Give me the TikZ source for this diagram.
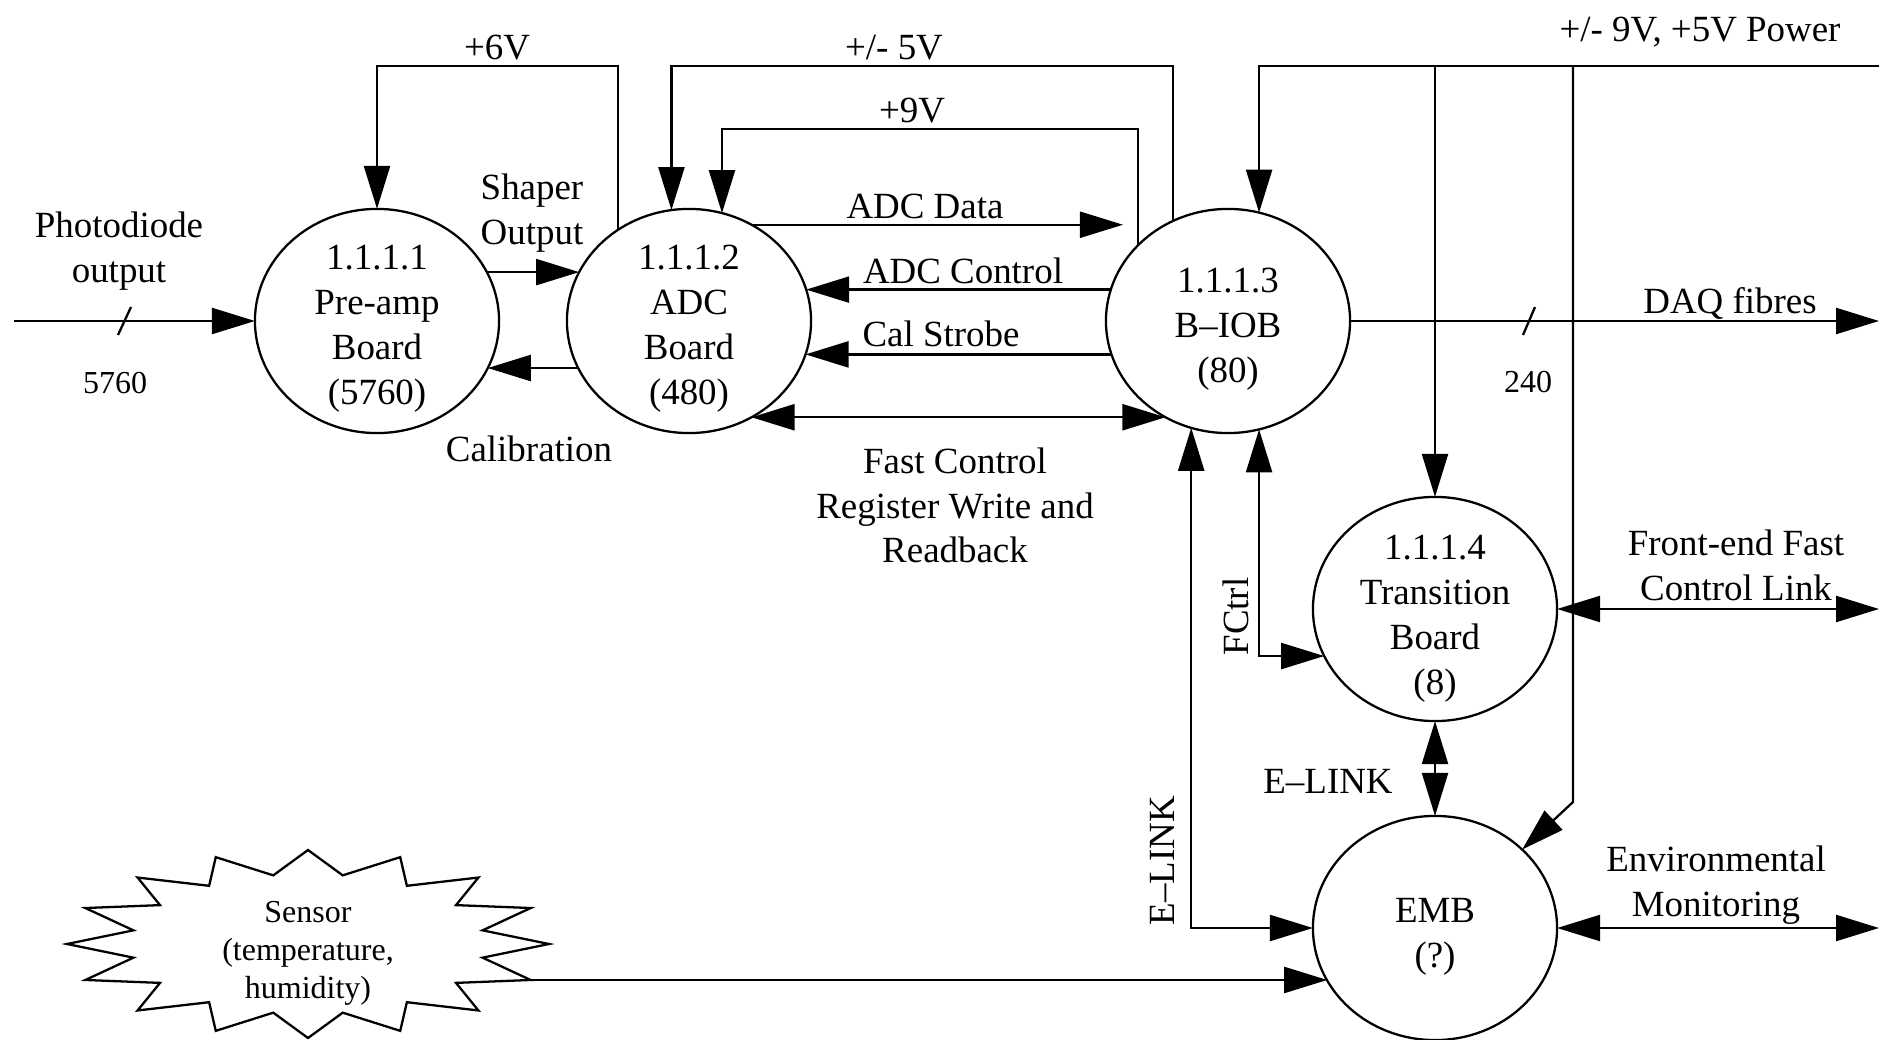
\documentclass[tikz,border=0pt]{standalone}
\usepackage{fontspec}
\setmainfont{Liberation Serif}
\usetikzlibrary{arrows.meta,shapes.geometric}
\newcommand{\mainf}{\fontsize{10.5}{12.75}\selectfont}
\newcommand{\smallf}{\fontsize{9.1}{10.9}\selectfont}
\begin{document}
\begin{tikzpicture}[x=0.01cm,y=-0.01cm,line width=0.65pt,
  board/.style={ellipse,draw,minimum width=2.44cm,minimum height=2.24cm,inner sep=0pt,outer sep=0pt},
  txt/.style={align=center,font=\mainf,inner sep=0pt,yshift=-1pt},
  stxt/.style={align=center,font=\smallf,inner sep=0pt,yshift=-1pt},
  arr/.style={-{Triangle[length=0.43cm,width=0.26cm]}},
  darr/.style={{Triangle[length=0.43cm,width=0.26cm]}-{Triangle[length=0.43cm,width=0.26cm]}}]
\useasboundingbox (0,0) rectangle (1879,1040);

% boards
\node[board] (E1) at (377,321) {};
\node[txt] (E1t) at (377,325) {1.1.1.1\\Pre-amp\\Board\\(5760)};
\node[board] (E2) at (689,321) {};
\node[txt] (E2t) at (689,325) {1.1.1.2\\ADC\\Board\\(480)};
\node[board] (E3) at (1228,321) {};
\node[txt] (E3t) at (1228,326) {1.1.1.3\\B–IOB\\(80)};
\node[board] (E4) at (1435,609) {};
\node[txt] (E4t) at (1435,615) {1.1.1.4\\Transition\\Board\\(8)};
\node[board] (E5) at (1435,928) {};
\node[txt] (E5t) at (1435,933) {EMB\\(?)};

% labels
\node[txt] (Lpd) at (119,248) {Photodiode\\output};
\node[stxt] (L5760) at (115,380) {5760};
\node[txt] (Lshaper) at (532,210) {Shaper\\Output};
\node[txt] (Lcal) at (529,445) {Calibration};
\node[txt] (L6) at (497,44) {+6V};
\node[txt] (L5) at (894,44) {+/- 5V};
\node[txt] (L9) at (912,107) {+9V};
\node[txt] (Ldata) at (925,203) {ADC Data};
\node[txt] (Lctrl) at (963,267) {ADC Control};
\node[txt] (Lstrobe) at (941,330) {Cal Strobe};
\node[txt] (Lfast) at (955,502) {Fast Control\\Register Write and\\Readback};
\node[txt] (Lpow) at (1700,29) {+/- 9V, +5V Power};
\node[txt] (Ldaq) at (1730,300) {DAQ fibres};
\node[stxt] (L240) at (1528,378) {240};
\node[txt] (Lfe) at (1736,562) {Front-end Fast\\Control Link};
\node[txt] (Lenv) at (1716,882) {Environmental\\Monitoring};
\node[txt] (Lel1) at (1328,778) {E–LINK};
\node[txt,rotate=90] (Lel2) at (1162,857) {E–LINK};
\node[txt,rotate=90] (Lfc) at (1236,613) {FCtrl};

% sensor starburst
\draw[line join=miter] (549,944) \foreach \k in {0,...,15}{
  -- ({308+178*cos(22.5*\k+11.25)},{944-70*sin(22.5*\k+11.25)})
  -- ({308+241*cos(22.5*\k+22.5)},{944-94*sin(22.5*\k+22.5)}) } -- cycle;
\node[stxt] (Lsens) at (308,950) {Sensor\\(temperature,\\humidity)};
\coordinate (sensorout) at ({308+241*cos(22.5)},{944+94*sin(22.5)});
\draw[arr] (sensorout) -- (sensorout -| E5.206);

% connectors
\coordinate (pdin) at (14,321);
\draw[arr] (pdin) -- (E1.west);
\draw (118,335) -- (131,307);
\draw[arr] (E1.24) -- (E2.156);
\draw[arr] (E2.203) -- (E1.337);
\coordinate (top6) at (0,66);
\coordinate (top9) at (0,129);
\draw[arr] (E2.128) |- (E1.north |- top6) -- (E1.north);
\draw[arr] (E3.119) |- (E2.99 |- top6) -- (E2.99);
\draw[arr] (E3.140) |- (E2.73 |- top9) -- (E2.73);
\coordinate (dataX) at (1123,0);
\draw[arr] (E2.57) -- (E2.57 -| dataX);
\draw[arr] (E3.165) -- (E2.15);
\draw[arr] (E3.196) -- (E2.344);
\draw[darr] (E2.303) -- (E3.237);
\coordinate (daqR) at (1879,321);
\draw[arr] (E3.east) -- (daqR);
\draw (1523,335) -- (1535,307);
\coordinate (pwR) at (1879,66);
\draw[arr] (pwR) -| (E3.74);
\draw[arr] (E4.north |- pwR) -- (E4.north);
\coordinate (pwK) at (1573,802);
\draw[arr] (pwK |- pwR) -- (pwK) -- (E5.42);
\coordinate (feR) at (1879,609);
\draw[darr] (E4.east) -- (feR);
\coordinate (envR) at (1879,928);
\draw[darr] (E5.east) -- (envR);
\draw[darr] (E4.south) -- (E5.north);
\draw[darr] (E3.251) |- (E5.west);
\draw[darr] (E3.286) |- (E4.203);
\end{tikzpicture}
\end{document}
